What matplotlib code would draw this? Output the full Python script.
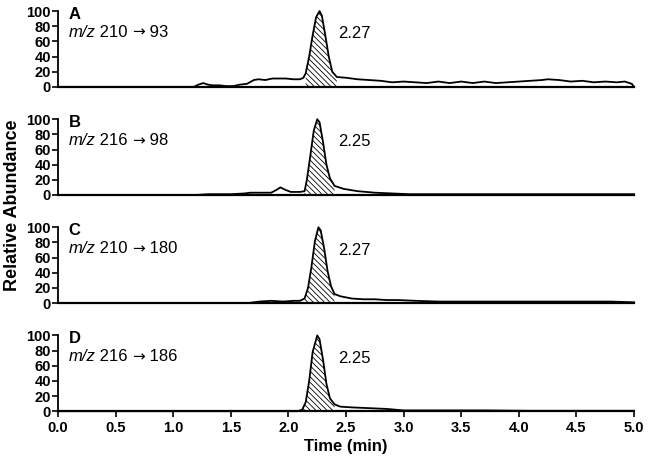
import numpy as np
import matplotlib
matplotlib.use("Agg")
import matplotlib.pyplot as plt

plt.rcParams["font.family"] = ["Liberation Sans", "DejaVu Sans"]
plt.rcParams["hatch.linewidth"] = 0.6

# chromatogram traces (time in min, relative abundance)
time_a = [0.0, 1.18, 1.22, 1.26, 1.30, 1.34, 1.40, 1.46, 1.52, 1.58, 1.64, 1.70, 1.74, 1.80, 1.86,
          1.92, 1.98, 2.04, 2.10, 2.13, 2.15, 2.18, 2.21, 2.24, 2.27, 2.29, 2.32, 2.35, 2.38,
          2.42, 2.50, 2.60, 2.70, 2.80, 2.90, 3.00, 3.10, 3.20, 3.30, 3.40, 3.50, 3.60, 3.70,
          3.80, 3.90, 4.00, 4.10, 4.20, 4.25, 4.35, 4.45, 4.55, 4.65, 4.75, 4.85, 4.92, 4.98, 5.0]
abund_a = [0, 0, 3, 5, 3, 2, 2, 1, 1, 3, 4, 9, 10, 9, 11,
           11, 11, 10, 10, 12, 18, 40, 68, 92, 100, 94, 68, 40, 20,
           13, 12, 10, 9, 8, 6, 7, 6, 5, 7, 5, 7, 5, 7, 5,
           6, 7, 8, 9, 10, 9, 7, 8, 6, 7, 6, 7, 4, 0]

time_b = [0.0, 1.20, 1.30, 1.50, 1.62, 1.67, 1.72, 1.85, 1.90, 1.93, 1.97, 2.02, 2.10, 2.14,
          2.16, 2.19, 2.22, 2.25, 2.27, 2.30, 2.33, 2.36, 2.40, 2.48, 2.60, 2.75, 2.90, 3.05,
          3.30, 3.60, 4.00, 4.40, 4.80, 5.0]
abund_b = [0, 0, 1, 1, 2, 3, 3, 3, 7, 10, 7, 4, 4, 5,
           20, 52, 85, 100, 96, 70, 40, 22, 12, 8, 5, 3, 2, 1,
           1, 1, 1, 1, 1, 1]

time_c = [0.0, 1.65, 1.75, 1.85, 1.95, 2.05, 2.10, 2.14, 2.17, 2.20, 2.23, 2.26, 2.28, 2.31,
          2.34, 2.37, 2.40, 2.45, 2.55, 2.65, 2.75, 2.85, 2.95, 3.10, 3.30, 3.60, 4.00, 4.40,
          4.80, 5.0]
abund_c = [0, 0, 2, 3, 2, 3, 3, 6, 20, 48, 82, 100, 96, 72,
           42, 22, 12, 9, 6, 5, 5, 4, 4, 3, 2, 2, 2, 2,
           2, 1]

time_d = [0.0, 2.08, 2.12, 2.15, 2.18, 2.21, 2.25, 2.27, 2.30, 2.33, 2.36, 2.40, 2.45, 2.55,
          2.70, 2.85, 3.00, 3.30, 3.70, 4.10, 4.50, 5.0]
abund_d = [0, 0, 2, 12, 40, 78, 100, 95, 68, 36, 17, 9, 6, 5,
           4, 3, 1, 1, 1, 0.5, 0.5, 0.5]

panel_letters = ["A", "B", "C", "D"]
precursors = ["210", "216", "210", "216"]
products = ["93", "98", "180", "186"]
peak_labels = ["2.27", "2.25", "2.27", "2.25"]
peak_windows = [(2.15, 2.42), (2.14, 2.40), (2.14, 2.40), (2.12, 2.40)]
traces = [(time_a, abund_a), (time_b, abund_b), (time_c, abund_c), (time_d, abund_d)]

xticks = [0.0, 0.5, 1.0, 1.5, 2.0, 2.5, 3.0, 3.5, 4.0, 4.5, 5.0]
yticks = [0, 20, 40, 60, 80, 100]

fig = plt.figure(figsize=(6.49, 4.62), dpi=100)
bottoms = [0.812, 0.578, 0.344, 0.110]
height = 0.164
left, width = 0.0894, 0.8876


def chain(ax, prev, text, **kw):
    # place a piece of text right after the previous one
    return ax.annotate(text, xy=(1, 0), xycoords=prev, va="bottom", ha="left", **kw)


for i, (t, y) in enumerate(traces):
    ax = fig.add_axes([left, bottoms[i], width, height])
    t = np.array(t)
    y = np.array(y, dtype=float)
    s, e = peak_windows[i]
    mask = (t >= s) & (t <= e)
    ax.fill_between(t, y, 0, where=mask, facecolor="white", edgecolor="black",
                    hatch="\\\\\\\\\\\\", linewidth=0)
    ax.plot(t, y, color="black", linewidth=1.3, clip_on=False)

    ax.set_xlim(0, 5.0)
    ax.set_ylim(0, 100)
    ax.set_yticks(yticks)
    ax.set_yticklabels([str(v) for v in yticks], fontsize=10.5, fontweight="bold")
    for side in ("top", "right"):
        ax.spines[side].set_visible(False)
    ax.spines["left"].set_linewidth(1.3)
    ax.spines["bottom"].set_linewidth(1.6)
    ax.tick_params(axis="y", length=4, width=1.2, pad=1)

    if i < 3:
        ax.set_xticks([])
    else:
        ax.set_xticks(xticks)
        ax.set_xticklabels([f"{v:.1f}" for v in xticks], fontsize=10.5, fontweight="bold")
        ax.tick_params(axis="x", length=4, width=1.2, pad=3)
        ax.set_xlabel("Time (min)", fontsize=12, fontweight="bold", labelpad=3)

    ax.text(0.09, 96, panel_letters[i], fontsize=12, fontweight="bold", va="center", ha="left")
    t0 = ax.text(0.09, 62, "m/z", fontsize=12, style="italic", va="bottom", ha="left")
    t1 = chain(ax, t0, " " + precursors[i] + " ", fontsize=12)
    t2 = chain(ax, t1, "\u2192", fontsize=11, family="DejaVu Sans")
    chain(ax, t2, " " + products[i], fontsize=12)
    ax.text(2.43, 70, peak_labels[i], fontsize=12, va="center", ha="left")

fig.text(0.02, 0.555, "Relative Abundance", rotation=90, fontsize=13, fontweight="bold",
         va="center", ha="center")

fig.savefig("out.png", dpi=100)
